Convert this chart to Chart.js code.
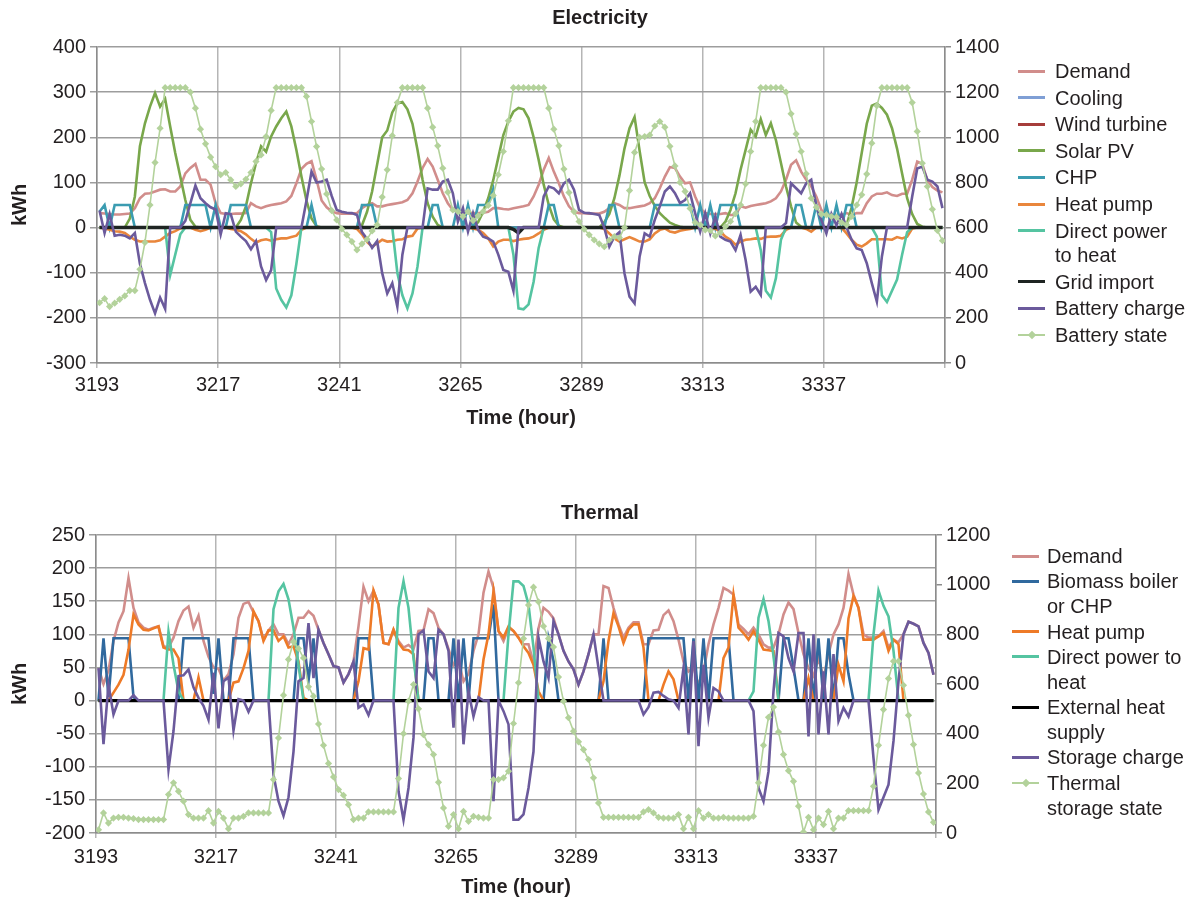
<!DOCTYPE html>
<html>
<head>
<meta charset="utf-8">
<title>Electricity and thermal balance</title>
<script src="https://cdn.jsdelivr.net/npm/chart.js@4.4.1/dist/chart.umd.min.js"></script>
<style>
  html, body { margin: 0; background: #fff; }
  body { position: relative; width: 1200px; height: 903px; overflow: hidden;
         font-family: "Liberation Sans", Arial, Helvetica, sans-serif; color: #231f20; }
  canvas { position: absolute; left: 0; }
  #elecChart { top: 0; }
  #thermChart { top: 480px; }
  .lg-text { position: absolute; font-size: 20px; line-height: 24px; white-space: nowrap; }
  .lg-line { position: absolute; height: 3px; }
  .lg-mark { position: absolute; width: 6px; height: 6px; transform: rotate(45deg); }
</style>
</head>
<body>
<canvas id="elecChart" width="1200" height="434"></canvas>
<canvas id="thermChart" width="1200" height="423"></canvas>
<script>
// one week of hourly values, starting at hour 3193
const firstHour = 3193;
const hours = Array.from({ length: 168 }, (_, i) => firstHour + i);
const xTickHours = [3193, 3217, 3241, 3265, 3289, 3313, 3337, 3361];

// ---- electricity (kWh, left axis) ----
const elDemand = [
  32,31,30,29,29,30,31,43,65,75,76,80,84,85,80,80,91,120,132,141,106,106,95,54,
  32,30,30,31,31,32,54,47,43,47,50,52,54,58,70,98,130,141,147,106,60,45,36,32,
  31,31,31,32,43,50,54,47,47,50,52,54,56,61,76,102,132,152,135,106,76,54,39,35,
  32,32,32,32,33,35,43,43,41,40,43,45,47,50,69,95,128,154,124,98,69,47,35,32,
  32,31,31,31,35,43,54,50,43,43,45,47,49,54,65,87,113,134,132,113,98,100,69,43,
  32,30,30,30,32,28,28,47,44,48,50,52,54,58,65,80,106,139,149,124,106,91,69,39,
  28,28,28,28,32,28,32,32,54,69,75,75,78,72,70,75,75,106,146,141,105,90,82,78
];
const elCooling = [
  0,0,0,0,0,0,0,0,0,0,0,0,0,0,0,0,0,0,0,0,0,0,0,0,
  0,0,0,0,0,0,0,0,0,0,0,0,0,0,0,0,0,0,0,0,0,0,0,0,
  0,0,0,0,0,0,0,0,0,0,0,0,0,0,0,0,0,0,0,0,0,0,0,0,
  0,0,0,0,0,0,0,0,0,0,0,0,0,0,0,0,0,0,0,0,0,0,0,0,
  0,0,0,0,0,0,0,0,0,0,0,0,0,0,0,0,0,0,0,0,0,0,0,0,
  0,0,0,0,0,0,0,0,0,0,0,0,0,0,0,0,0,0,0,0,0,0,0,0,
  0,0,0,0,0,0,0,0,0,0,0,0,0,0,0,0,0,0,0,0,0,0,0,0
];
const elWind = [
  0,0,0,0,0,0,0,0,0,0,0,0,0,0,0,0,0,0,0,0,0,0,0,0,
  0,0,0,0,0,0,0,0,0,0,0,0,0,0,0,0,0,0,0,0,0,0,0,0,
  0,0,0,0,0,0,0,0,0,0,0,0,0,0,0,0,0,0,0,0,0,0,0,0,
  0,0,0,0,0,0,0,0,0,0,0,0,0,0,0,0,0,0,0,0,0,0,0,0,
  0,0,0,0,0,0,0,0,0,0,0,0,0,0,0,0,0,0,0,0,0,0,0,0,
  0,0,0,0,0,0,0,0,0,0,0,0,0,0,0,0,0,0,0,0,0,0,0,0,
  0,0,0,0,0,0,0,0,0,0,0,0,0,0,0,0,0,0,0,0,0,0,0,0
];
const elSolar = [
  0,0,0,0,0,0,20,69,180,231,268,298,268,285,224,165,113,61,17,2,0,0,0,0,
  0,0,0,0,17,47,98,143,180,168,202,224,242,257,224,172,113,60,20,3,0,0,0,0,
  0,0,0,0,5,35,80,140,200,215,255,275,278,262,230,172,106,54,24,6,0,0,0,0,
  0,0,2,12,35,65,105,155,205,235,257,265,262,242,200,150,95,50,18,4,0,0,0,0,
  0,0,0,0,12,30,65,115,175,220,245,170,100,70,48,32,21,11,6,2,0,0,0,0,
  0,0,0,0,13,39,76,128,172,217,202,240,205,231,194,143,91,47,11,2,0,0,0,0,
  0,0,0,0,5,45,100,165,230,270,275,265,250,220,175,120,65,30,8,2,0,0,0,0
];
const elChp = [
  35,50,0,50,50,50,50,0,0,0,0,0,0,0,0,0,0,50,50,50,50,50,0,50,
  0,0,50,50,50,50,0,0,0,0,0,0,0,0,0,0,0,0,50,0,0,0,0,0,
  0,0,0,0,50,50,50,0,0,0,0,0,0,0,0,0,0,0,50,50,0,0,0,50,
  0,50,0,50,50,50,85,0,0,0,0,0,0,0,0,0,0,50,50,0,0,0,0,0,
  0,0,0,0,0,50,50,0,0,0,0,0,0,0,50,50,50,50,50,50,50,50,0,50,
  0,50,0,50,50,50,50,0,0,0,0,0,0,0,0,0,0,0,50,50,0,0,50,0,
  50,0,50,0,50,50,0,0,0,0,0,0,0,0,0,0,0,0,0,0,0,0,0,0
];
const elHeatPump = [
  0,-2,-5,-8,-9,-12,-20,-27,-31,-31,-31,-31,-28,-20,-12,-8,-2,0,0,-5,-8,-5,0,0,
  0,0,-3,-5,-8,-15,-25,-33,-28,-26,-29,-26,-24,-24,-21,-18,-5,0,0,0,0,0,0,0,
  0,0,0,-3,-15,-32,-42,-35,-27,-31,-30,-27,-26,-20,-18,-2,0,0,0,0,0,0,0,0,
  0,0,-2,-5,-12,-24,-42,-31,-27,-27,-30,-27,-25,-24,-20,-13,-5,0,0,0,0,0,0,0,
  0,0,0,0,-3,-13,-24,-31,-26,-21,-26,-31,-31,-26,-13,-5,-2,-9,-11,-7,-5,-3,0,0,
  0,0,-3,-9,-20,-27,-38,-31,-27,-26,-24,-25,-21,-20,-20,-18,-5,0,0,0,-3,-9,0,0,
  0,0,0,0,-13,-27,-38,-42,-35,-26,-26,-26,-26,-27,-21,-24,-20,-2,0,0,0,0,0,0
];
const elDirectHeat = [
  0,0,0,0,0,0,0,0,0,0,0,0,0,0,-105,-60,-15,0,0,0,0,0,0,0,
  0,0,0,0,0,0,0,0,0,0,-10,-135,-160,-177,-150,-80,0,0,0,0,0,0,0,0,
  0,0,0,0,0,0,0,0,0,0,0,-100,-150,-179,-146,-86,0,0,0,0,0,0,0,0,
  0,0,0,0,0,0,0,0,0,0,-60,-179,-181,-170,-120,-45,0,0,0,0,0,0,0,0,
  0,0,0,0,0,0,0,0,0,0,0,0,0,0,0,0,0,0,0,0,0,0,0,0,
  0,0,0,0,0,0,0,0,0,0,0,-50,-140,-155,-112,-27,0,0,0,0,0,0,0,0,
  0,0,0,0,0,0,0,0,0,0,-20,-150,-165,-140,-115,-60,-10,0,0,0,0,0,0,0
];
const elGridImport = [
  0,0,0,0,0,0,0,0,0,0,0,0,0,0,0,0,0,0,0,0,0,0,0,0,
  0,0,0,0,0,0,0,0,0,0,0,0,0,0,0,0,0,0,0,0,0,0,0,0,
  0,0,0,0,0,0,0,0,0,0,0,0,0,0,0,0,0,0,0,0,0,0,0,0,
  0,0,0,0,0,0,0,0,0,0,-4,-12,0,0,0,0,0,0,0,0,0,0,0,0,
  0,0,0,0,0,0,0,0,0,0,0,0,0,0,0,0,0,0,0,0,0,0,0,0,
  0,0,0,0,0,0,0,0,0,0,0,0,0,0,0,0,0,0,0,0,0,0,0,0,
  0,0,0,0,0,0,0,0,0,0,0,0,0,0,0,0,0,0,0,0,0,0,0,0
];
const elBatteryCharge = [
  38,-12,30,-18,-16,-18,-24,-12,-80,-123,-160,-190,-155,-180,0,0,0,15,54,93,65,54,45,40,
  -15,32,30,-9,-20,-30,-48,-30,-86,-116,-94,0,0,0,0,0,0,60,124,100,102,106,70,39,
  35,33,32,28,-10,-25,-45,-30,-101,-146,-123,-175,-60,0,0,0,0,87,84,84,102,106,76,13,
  43,-9,32,-5,-20,-24,-31,-60,-94,-98,-140,0,0,0,0,0,69,91,87,76,98,106,84,39,
  33,32,30,28,0,-42,-20,-10,-101,-153,-168,-64,-13,-20,17,47,80,91,76,54,61,76,32,-9,
  32,-13,25,-20,-27,-31,-50,-16,-72,-142,-131,-149,0,0,0,0,10,98,87,76,98,106,47,17,
  -13,30,5,30,0,-27,-46,-50,-79,-123,-164,-64,0,0,0,0,0,69,131,135,106,102,91,43
];
// battery state of charge (kWh, right axis)
const elBatteryState = [
  267,285,250,265,282,297,321,321,415,534,700,888,1040,1220,1220,1220,1220,1220,1200,1129,1036,971,912,870,
  834,844,811,782,794,814,844,893,922,1003,1119,1220,1220,1220,1220,1220,1220,1181,1070,959,859,749,675,634,
  594,568,538,501,528,548,585,612,735,856,1007,1154,1220,1220,1220,1220,1220,1129,1045,962,863,757,678,671,
  649,671,631,652,671,698,742,834,937,1073,1220,1220,1220,1220,1220,1220,1220,1129,1036,962,859,755,671,627,
  593,568,545,528,515,545,560,555,600,764,933,1000,1003,1010,1050,1070,1045,960,873,800,760,685,622,612,
  590,587,563,578,605,627,662,700,794,937,1070,1220,1220,1220,1220,1220,1200,1104,1015,937,838,730,690,660,
  656,649,646,622,612,649,700,745,837,974,1140,1220,1220,1220,1220,1220,1220,1154,1026,885,782,681,587,542
];

// ---- thermal (kWh, left axis) ----
const thDemand = [
  49,25,45,90,118,135,185,140,118,110,107,110,112,82,80,95,120,136,142,110,128,90,66,50,
  48,30,40,70,125,146,149,133,120,92,106,115,100,100,85,100,125,125,135,128,107,87,70,52,
  50,27,40,59,112,172,150,166,145,87,85,107,90,80,84,78,105,106,138,132,110,100,78,53,
  60,29,40,75,100,163,195,170,105,90,110,105,95,85,85,57,109,140,134,124,100,75,59,47,
  24,44,70,100,100,173,170,140,115,95,110,118,118,85,85,106,107,129,136,120,92,59,44,50,
  24,44,85,115,140,170,166,160,115,108,100,110,100,85,80,80,100,130,148,138,102,70,49,37,
  64,34,70,100,115,140,191,160,140,100,95,95,97,105,80,92,88,100,119,116,112,87,72,39
];
const thBiomass = [
  0,94,5,94,94,94,94,5,0,0,0,0,0,0,0,0,0,94,94,94,94,94,94,10,
  94,0,0,94,94,94,94,0,0,0,0,0,0,0,0,0,94,94,30,94,0,0,0,0,
  0,0,0,0,94,94,94,0,0,0,0,0,0,0,0,0,0,0,94,94,0,0,0,94,
  0,94,0,94,94,94,94,145,0,0,0,0,0,0,0,0,0,0,94,60,0,0,0,0,
  0,0,0,0,0,94,0,0,0,0,0,0,0,0,94,94,94,94,94,94,94,94,0,94,
  0,94,0,94,94,94,94,0,0,0,0,0,0,0,0,0,0,94,94,50,0,0,94,0,
  94,0,94,0,94,94,40,0,0,0,0,0,0,0,0,0,0,0,0,0,0,0,0,0
];
const thHeatPump = [
  0,0,0,12,24,39,77,130,115,107,106,109,112,80,77,77,64,0,0,0,35,0,0,0,
  0,0,0,27,29,49,75,135,120,90,106,106,90,97,80,82,59,4,0,0,0,0,0,0,
  0,0,0,0,29,79,77,166,145,87,85,107,87,77,76,70,0,0,0,0,0,0,0,0,
  0,0,0,0,0,62,100,165,105,95,112,105,95,82,72,54,14,0,0,0,0,0,0,0,
  0,0,0,0,0,29,90,132,112,87,107,115,115,80,0,0,0,24,44,32,0,0,0,0,
  0,0,0,0,0,64,80,160,110,102,92,105,92,77,76,75,0,0,0,0,0,0,34,0,
  0,0,0,0,54,29,124,158,140,92,92,92,97,102,75,92,85,0,0,0,0,0,0,0
];
const thDirectHeat = [
  0,0,0,0,0,0,0,0,0,0,0,0,0,0,104,54,14,0,0,0,0,0,0,0,
  0,0,0,0,0,0,0,0,0,0,0,138,165,176,153,110,54,0,0,0,0,0,0,0,
  0,0,0,0,0,0,0,0,0,0,0,0,140,180,140,64,0,0,0,0,0,0,0,0,
  0,0,0,0,0,0,0,0,0,0,100,180,180,173,145,80,0,0,0,0,0,0,0,0,
  0,0,0,0,0,0,0,0,0,0,0,0,0,0,0,0,0,0,0,0,0,0,0,0,
  0,0,0,0,0,0,0,0,0,0,0,14,125,153,120,67,0,0,0,0,0,0,0,0,
  0,0,0,0,0,0,0,0,0,0,0,100,166,143,127,75,0,0,0,0,0,0,0,0
];
const thExternal = [
  0,0,0,0,0,0,0,0,0,0,0,0,0,0,0,0,0,0,0,0,0,0,0,0,
  0,0,0,0,0,0,0,0,0,0,0,0,0,0,0,0,0,0,0,0,0,0,0,0,
  0,0,0,0,0,0,0,0,0,0,0,0,0,0,0,0,0,0,0,0,0,0,0,0,
  0,0,0,0,0,0,0,0,0,0,0,0,0,0,0,0,0,0,0,0,0,0,0,0,
  0,0,0,0,0,0,0,0,0,0,0,0,0,0,0,0,0,0,0,0,0,0,0,0,
  0,0,0,0,0,0,0,0,0,0,0,0,0,0,0,0,0,0,0,0,0,0,0,0,
  0,0,0,0,0,0,0,0,0,0,0,0,0,0,0,0,0,0,0,0,0,0,0,0
];
const thStorageCharge = [
  49,-66,24,-21,0,0,0,8,0,0,0,0,0,0,-104,-46,37,38,47,20,4,-8,-29,42,
  -42,29,35,-45,2,0,-17,0,0,0,0,-112,-152,-174,-146,-77,29,34,117,34,107,87,70,52,
  50,27,40,59,-11,-6,-22,0,0,0,0,0,-137,-180,-132,-56,100,106,44,34,107,100,75,-41,
  92,-66,14,-24,5,0,0,-152,0,-16,-36,-180,-180,-172,-132,-77,95,59,34,120,100,75,59,47,
  24,44,70,100,49,0,0,0,0,0,0,0,0,-21,-10,12,13,7,2,0,-11,49,-51,90,
  -69,54,-26,19,14,0,0,0,0,0,0,-16,-132,-152,-107,14,102,97,64,44,102,102,-54,100,
  -51,44,-51,70,-31,-11,-24,0,0,0,0,-87,-165,-146,-127,-61,29,100,119,116,112,87,72,39
];
// thermal storage state (kWh, right axis)
const thStorageState = [
  13,81,40,60,63,63,60,58,54,54,54,54,54,54,155,202,168,128,74,60,60,60,90,40,
  87,60,17,60,60,67,81,81,81,81,81,215,383,555,699,770,743,705,589,551,439,353,280,226,
  175,152,114,54,60,60,85,85,85,85,85,85,219,400,531,598,500,396,356,316,204,101,27,74,
  17,87,47,67,63,60,60,215,215,222,249,441,605,783,918,990,931,833,783,749,628,531,464,410,
  367,336,296,222,121,63,63,63,63,63,63,63,63,85,94,81,63,60,60,60,74,17,63,17,
  90,60,74,60,60,63,60,60,60,60,60,67,202,353,466,507,407,316,251,208,108,4,63,13,
  60,34,87,17,60,60,90,90,90,90,90,188,353,497,622,692,692,595,474,356,242,157,85,43
];

const INK = '#231f20';
const C = {
  demand: '#d18d8b', cooling: '#7f9fd5', wind: '#a63d3b', solar: '#79a74b',
  chp: '#3b9cb1', heatPump: '#e9863c', direct: '#55c4a1', grid: '#1e2422',
  battery: '#6b5a9c', state: '#b3d29b', biomass: '#30699e', thHeatPump: '#ee7a27',
  external: '#000000'
};

Chart.defaults.font.family = '"Liberation Sans", Arial, Helvetica, sans-serif';
Chart.defaults.font.size = 20;
Chart.defaults.color = INK;

function series(label, values, color, extra) {
  return Object.assign({
    label: label,
    data: values.map((v, i) => ({ x: hours[i] + 0.5, y: v })),
    borderColor: color,
    backgroundColor: color,
    borderWidth: 2.6,
    pointRadius: 0,
    pointHoverRadius: 0,
    tension: 0,
    fill: false,
    yAxisID: 'y'
  }, extra || {});
}

function stateSeries(label, values) {
  return series(label, values, C.state, {
    yAxisID: 'y2', borderWidth: 1.6, pointRadius: 3.6, pointStyle: 'rectRot',
    pointBorderWidth: 0, pointBackgroundColor: C.state
  });
}

function makeChart(id, o) {
  // later series are painted over earlier ones
  o.datasets.forEach((d, i) => { d.order = -i; });
  const lastTick = xTickHours[xTickHours.length - 1];
  return new Chart(document.getElementById(id), {
    type: 'line',
    data: { datasets: o.datasets },
    options: {
      responsive: false,
      animation: false,
      events: [],
      layout: { padding: 0, autoPadding: false },
      plugins: {
        legend: { display: false },
        tooltip: { enabled: false },
        title: { display: true, text: o.title, color: INK,
                 font: { size: 20, weight: 'bold' }, padding: o.titlePad }
      },
      scales: {
        x: {
          type: 'linear', min: xTickHours[0], max: lastTick,
          afterBuildTicks: s => { s.ticks = xTickHours.map(v => ({ value: v })); },
          afterFit: s => { s.height = o.xHeight; },
          ticks: { autoSkip: false, maxRotation: 0, padding: o.xPad,
                   callback: v => (v === lastTick ? '' : String(v)) },
          grid: { color: '#b5b5b5', lineWidth: 1.5, tickLength: 5 },
          border: { color: '#8c8c8c', width: 1.5 },
          title: { display: true, text: 'Time (hour)', font: { weight: 'bold' },
                   padding: { top: 4, bottom: 4 } }
        },
        y: {
          min: o.yMin, max: o.yMax,
          afterFit: s => { s.width = o.left; },
          ticks: { stepSize: o.yStep, padding: 4, callback: v => String(v) },
          grid: { color: '#9d9d9d', lineWidth: 1.5, tickLength: 7 },
          border: { color: '#8c8c8c', width: 1.5 },
          title: { display: true, text: 'kWh', font: { weight: 'bold' },
                   padding: { top: 8, bottom: 0 } }
        },
        y2: {
          position: 'right', min: 0, max: o.y2Max,
          afterFit: s => { s.width = 1200 - o.right; },
          ticks: { stepSize: 200, padding: 4, callback: v => String(v) },
          grid: { drawOnChartArea: false, color: '#8c8c8c', lineWidth: 1.5, tickLength: 6 },
          border: { color: '#8c8c8c', width: 1.5 }
        }
      }
    }
  });
}

makeChart('elecChart', {
  title: 'Electricity',
  titlePad: { top: 6.5, bottom: 16.5 },
  left: 97, right: 945, xHeight: 71, xPad: 5,
  yMin: -300, yMax: 400, yStep: 100, y2Max: 1400,
  datasets: [
    series('Demand', elDemand, C.demand),
    series('Cooling', elCooling, C.cooling),
    series('Wind turbine', elWind, C.wind),
    series('Solar PV', elSolar, C.solar),
    series('CHP', elChp, C.chp),
    series('Heat pump', elHeatPump, C.heatPump),
    series('Direct power to heat', elDirectHeat, C.direct),
    series('Grid import', elGridImport, C.grid, { borderWidth: 3.6 }),
    series('Battery charge', elBatteryCharge, C.battery),
    stateSeries('Battery state', elBatteryState)
  ]
});

makeChart('thermChart', {
  title: 'Thermal',
  titlePad: { top: 21, bottom: 10 },
  left: 96, right: 936, xHeight: 70, xPad: 7,
  yMin: -200, yMax: 250, yStep: 50, y2Max: 1200,
  datasets: [
    series('Demand', thDemand, C.demand),
    series('Biomass boiler or CHP', thBiomass, C.biomass),
    series('Heat pump', thHeatPump, C.thHeatPump),
    series('Direct power to heat', thDirectHeat, C.direct),
    series('External heat supply', thExternal, C.external, { borderWidth: 3.2 }),
    series('Storage charge', thStorageCharge, C.battery),
    stateSeries('Thermal storage state', thStorageState)
  ]
});

// legends as page text next to each plot
function buildLegend(items, p) {
  let y = p.firstY;
  items.forEach(it => {
    const sw = document.createElement('div');
    sw.className = 'lg-line';
    sw.style.left = p.lineX + 'px';
    sw.style.width = p.lineW + 'px';
    sw.style.top = (y - 1.5) + 'px';
    sw.style.background = it.color;
    if (it.marker) { sw.style.height = '2px'; sw.style.top = (y - 1) + 'px'; }
    document.body.appendChild(sw);
    if (it.marker) {
      const m = document.createElement('div');
      m.className = 'lg-mark';
      m.style.background = it.color;
      m.style.left = (p.lineX + p.lineW / 2 - 3) + 'px';
      m.style.top = (y - 3) + 'px';
      document.body.appendChild(m);
    }
    it.text.forEach((t, k) => {
      const d = document.createElement('div');
      d.className = 'lg-text';
      d.textContent = t;
      d.style.left = p.textX + 'px';
      d.style.top = (y - 12) + 'px';
      document.body.appendChild(d);
      if (k < it.text.length - 1) y += p.wrapStep;
    });
    y += p.itemStep;
  });
}

buildLegend([
  { text: ['Demand'], color: C.demand },
  { text: ['Cooling'], color: C.cooling },
  { text: ['Wind turbine'], color: C.wind },
  { text: ['Solar PV'], color: C.solar },
  { text: ['CHP'], color: C.chp },
  { text: ['Heat pump'], color: C.heatPump },
  { text: ['Direct power', 'to heat'], color: C.direct },
  { text: ['Grid import'], color: C.grid },
  { text: ['Battery charge'], color: C.battery },
  { text: ['Battery state'], color: C.state, marker: true }
], { firstY: 71, itemStep: 26.6, wrapStep: 24.4, lineX: 1018, lineW: 27, textX: 1055 });

buildLegend([
  { text: ['Demand'], color: C.demand },
  { text: ['Biomass boiler', 'or CHP'], color: C.biomass },
  { text: ['Heat pump'], color: C.thHeatPump },
  { text: ['Direct power to', 'heat'], color: C.direct },
  { text: ['External heat', 'supply'], color: C.external },
  { text: ['Storage charge'], color: C.battery },
  { text: ['Thermal', 'storage state'], color: C.state, marker: true }
], { firstY: 556, itemStep: 25.17, wrapStep: 25.17, lineX: 1012, lineW: 27, textX: 1047 });
</script>
</body>
</html>
